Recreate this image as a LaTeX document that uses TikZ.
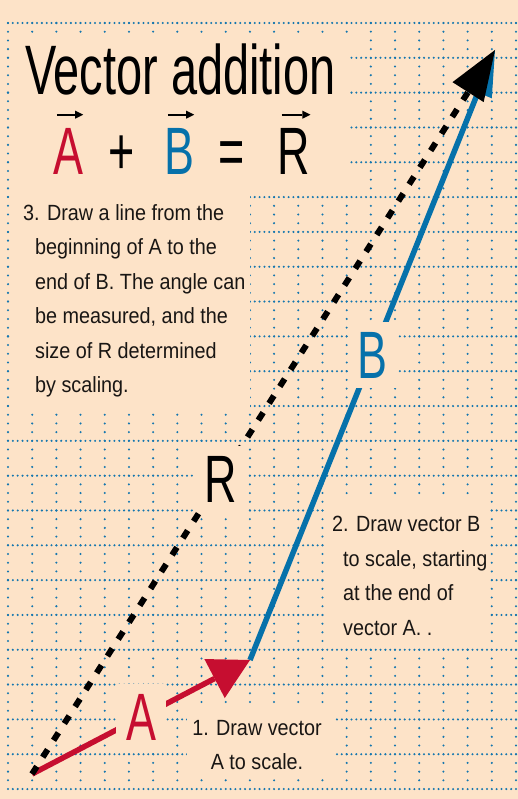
\documentclass[tikz,border=0pt]{standalone}
\usepackage{fontspec}
\setmainfont{Liberation Sans}
\newfontfamily\headfont[FakeStretch=0.67]{Liberation Sans}
\newfontfamily\notefont[FakeStretch=0.9]{Liberation Sans}
\usetikzlibrary{arrows.meta}

\definecolor{paper}{RGB}{253,227,200}
\definecolor{gridblue}{RGB}{20,118,175}
\definecolor{vecred}{RGB}{198,14,48}
\definecolor{vecblue}{RGB}{6,113,170}
\definecolor{ink}{RGB}{25,22,20}

\tikzset{
  gridh/.style={gridblue, line width=2.3pt, line cap=round,
    dash pattern=on 0pt off 4.838pt}, % dotted rows
  gridv/.style={gridblue, line width=2.3pt, line cap=round,
    dash pattern=on 0pt off 8.705pt}, % dotted columns
  vecA/.style={vecred, line width=5.5pt,
    -{Triangle[length=40pt, width=44pt, line width=0pt]}},
  vecB/.style={vecblue, line width=5.5pt,
    -{Triangle[length=46pt, width=30pt, line width=0pt]}},
  vecR/.style={black, line width=6pt, dash pattern=on 9pt off 11pt,
    -{Triangle[length=50pt, width=37pt, line width=0pt]}},
  bar/.style={black, line width=2pt,
    -{Triangle[length=8pt, width=8pt, line width=0pt]}},
}

\begin{document}
\begin{tikzpicture}[x=1pt, y=-1pt,
  lab/.style={fill=paper, inner sep=10pt, font=\headfont\fontsize{67}{67}\selectfont},
  eqn/.style={anchor=base, inner sep=0pt, font=\headfont\fontsize{67}{67}\selectfont},
  note/.style={inner sep=0pt, text=ink, font=\notefont\fontsize{22}{34.5}\selectfont}]

  \fill[paper] (0,0) rectangle (518,799);
  \useasboundingbox (0,0) rectangle (518,799);

  % graph paper
  \foreach \i in {0,...,22}
    \draw[gridh] (8,{23+34.82*\i}) -- (516,{23+34.82*\i});
  \foreach \j in {0,...,21}
    \draw[gridv] ({8+24.19*\j},23) -- ({8+24.19*\j},789);

  % blank patches behind the texts
  \fill[paper] (10,33) rectangle (350,190);
  \fill[paper] (10,190) rectangle (250,409);
  \fill[paper] (326,498) rectangle (490,647);
  \fill[paper] (187,704) rectangle (335,779);

  \node[anchor=base west, inner sep=0pt, font=\headfont\fontsize{70}{70}\selectfont]
    (title) at (25,95) {Vector addition};

  \node[eqn, text=vecred] (eqA) at (68,175) {A};
  \node[eqn] (plus) at (122,175) {+};
  \node[eqn, text=vecblue] (eqB) at (179,175) {B};
  \node[eqn] (equals) at (232,175) {=};
  \node[eqn] (eqR) at (294,175) {R};
  \foreach \n in {eqA, eqB, eqR}
    \draw[bar] ([xshift=4pt, yshift=14pt]\n.north west) -- ([yshift=14pt]\n.north east);

  % the three vectors
  \coordinate (O) at (32,774);
  \coordinate (Q) at (250,660);
  \coordinate (P) at (495,50);
  \draw[vecB] (Q) -- node[lab, text=vecblue] (labB) {B} (P);
  \draw[vecA] (O) -- node[lab, text=vecred] (labA) {A} (Q);
  \draw[vecR] (O) -- node[lab, pos=0.407, text=black] (labR) {R} (P);

  \node[note, align=left, anchor=north west] (stepthree) at (23,204)
    {3. Draw a line from the\\
    \hspace*{12pt}beginning of A to the\\
    \hspace*{12pt}end of B. The angle can\\
    \hspace*{12pt}be measured, and the\\
    \hspace*{12pt}size of R determined\\
    \hspace*{12pt}by scaling.};
  \node[note, align=left, anchor=north west] (steptwo) at (332,516)
    {2. Draw vector B\\
    \hspace*{11pt}to scale, starting\\
    \hspace*{11pt}at the end of\\
    \hspace*{11pt}vector A. .};
  \node[note, align=center, anchor=north] (stepone) at (257,720)
    {1. Draw vector\\ A to scale.};
\end{tikzpicture}
\end{document}
